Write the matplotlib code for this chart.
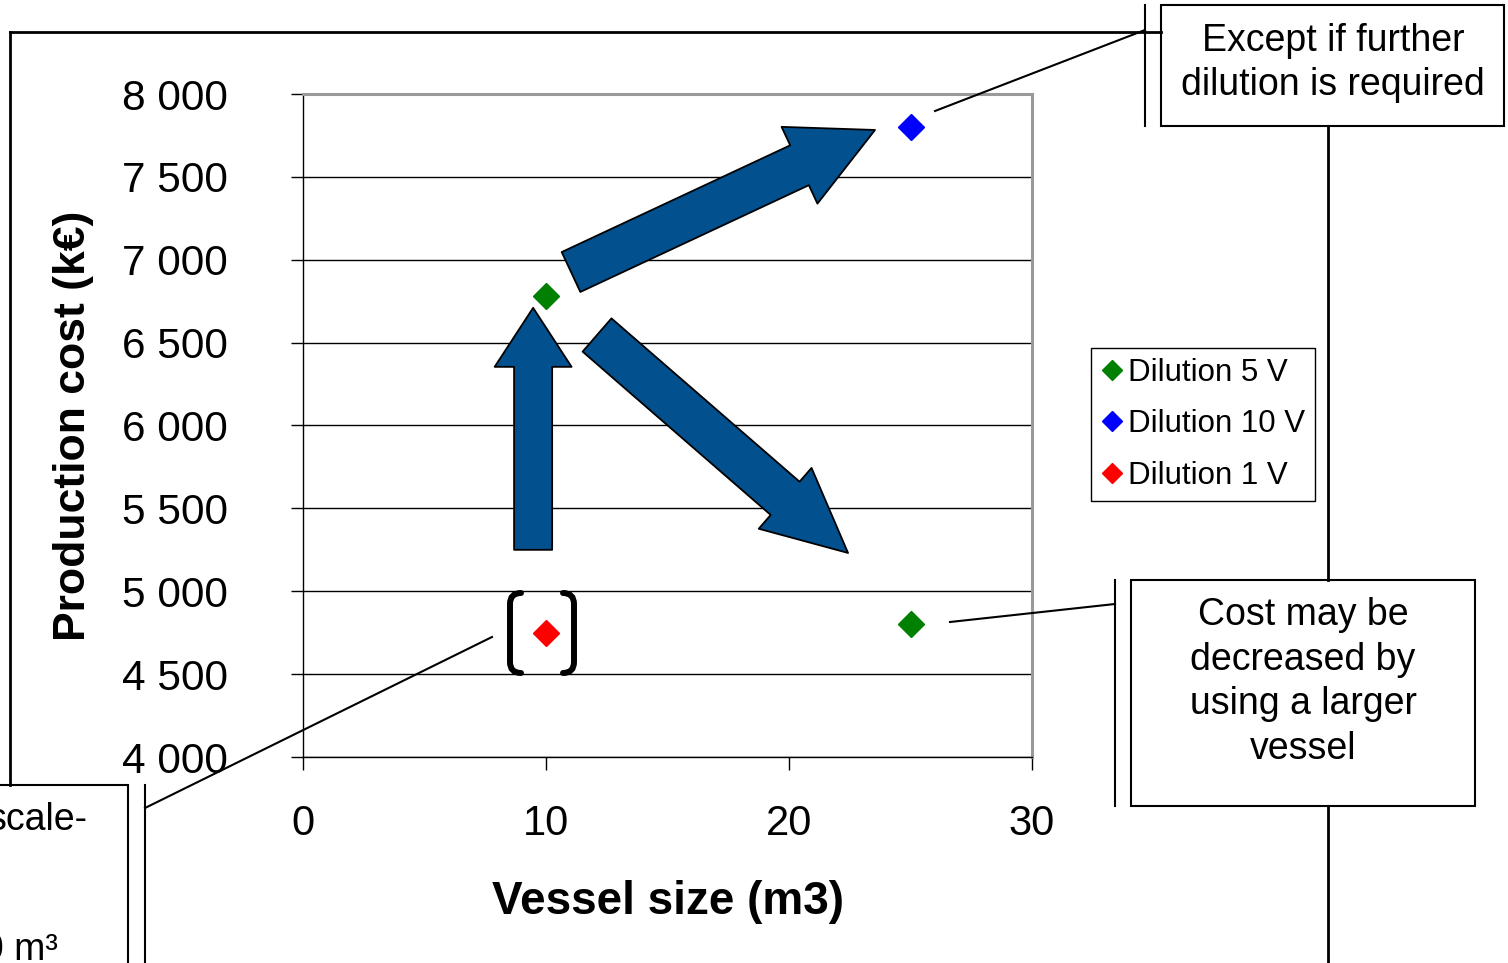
import matplotlib
matplotlib.use("Agg")
import matplotlib.pyplot as plt
from matplotlib.patches import Rectangle, FancyArrowPatch, PathPatch
from matplotlib.path import Path
from matplotlib.ticker import FuncFormatter

plt.rcParams['font.family'] = ['Liberation Sans', 'DejaVu Sans']

# ---- data ----
series_names = ["Dilution 5 V", "Dilution 10 V", "Dilution 1 V"]
series_colors = ["#008000", "#0000FF", "#FF0000"]
series_x = [[10, 25], [25], [10]]
series_y = [[6780, 4800], [7800], [4750]]

x_ticks = [0, 10, 20, 30]
y_ticks = [4000, 4500, 5000, 5500, 6000, 6500, 7000, 7500, 8000]

# annotation arrows (tail -> tip, data units)
arrow_tails = [(9.47, 5250), (11.03, 6926), (12.1, 6546)]
arrow_tips = [(9.47, 6710), (23.54, 7783), (22.43, 5231)]
arrow_sizes = [(42.5, 55.4, 27.4), (60, 61, 31.7), (60, 58, 31.7)]  # head_len, head_w, tail_w (pt)

W, H = 1508, 963
fig = plt.figure(figsize=(W / 100, H / 100), dpi=100)
fig.patch.set_facecolor("white")

def fx(px):
    return px / W

def fy(py):
    return 1 - py / H

ax = fig.add_axes([fx(303), fy(757), fx(1032) - fx(303), fy(94) - fy(757)])
ax.set_xlim(0, 30)
ax.set_ylim(4000, 8000)
ax.set_xticks(x_ticks)
ax.set_yticks(y_ticks)
ax.yaxis.set_major_formatter(FuncFormatter(lambda v, p: f"{int(v):,}".replace(",", " ")))
ax.grid(axis="y", color="black", lw=1.0)
ax.set_axisbelow(True)
for s in ["top", "right"]:
    ax.spines[s].set_color("#9a9a9a")
    ax.spines[s].set_linewidth(2.2)
for s in ["left", "bottom"]:
    ax.spines[s].set_color("black")
    ax.spines[s].set_linewidth(1.0)
ax.tick_params(axis="y", direction="out", length=9, width=1, labelsize=30.5, pad=45)
ax.tick_params(axis="x", direction="out", length=9, width=1, labelsize=30, pad=25)
ax.set_ylabel("Production cost (k€)", fontsize=32, fontweight="bold", labelpad=20)
ax.set_xlabel("Vessel size (m3)", fontsize=33, fontweight="bold", labelpad=26)

handles = []
for name, c, xs, ys in zip(series_names, series_colors, series_x, series_y):
    h, = ax.plot(xs, ys, ls="none", marker="D", ms=13, color=c, label=name, zorder=5)
    handles.append(h)

for (t, tip, (hl, hw, tw)) in zip(arrow_tails, arrow_tips, arrow_sizes):
    arr = FancyArrowPatch(t, tip, arrowstyle=f"simple,head_length={hl},head_width={hw},tail_width={tw}",
                          mutation_scale=1, shrinkA=0, shrinkB=0, fc="#03508F", ec="black", lw=1.3,
                          transform=ax.transData, zorder=4)
    ax.add_patch(arr)

leg = fig.legend(handles=handles, loc="upper left", bbox_to_anchor=(fx(1091), fy(348)),
                 fontsize=22.5, markerscale=0.8, handlelength=0.7, handletextpad=0.15,
                 labelspacing=0.68, borderpad=0.32, borderaxespad=0, fancybox=False,
                 frameon=True, edgecolor="black", framealpha=1)
leg.get_frame().set_linewidth(1.0)

# ---- overlay in pixel coordinates ----
ov = fig.add_axes([0, 0, 1, 1], zorder=10)
ov.set_xlim(0, W)
ov.set_ylim(H, 0)
ov.axis("off")
ov.patch.set_alpha(0)

lw = 1.5
K = "black"
# outer frame
ov.plot([10, 10], [32, 785], color=K, lw=2)
ov.plot([10, 1161], [32, 32], color=K, lw=2)
ov.plot([1328, 1328], [126, 580], color=K, lw=2)
ov.plot([1328, 1328], [806, 963], color=K, lw=2)

# callout top right
ov.add_patch(Rectangle((1161, 5), 343, 121, fc="white", ec=K, lw=lw))
ov.plot([1145, 1145], [5, 126], color=K, lw=lw)
ov.plot([935, 1145], [111, 30], color=K, lw=lw)
ov.text(1333, 63, "Except if further\ndilution is required", ha="center", va="center",
        fontsize=27, linespacing=1.3)

# callout right
ov.add_patch(Rectangle((1131, 580), 344, 226, fc="white", ec=K, lw=lw))
ov.plot([1115, 1115], [580, 806], color=K, lw=lw)
ov.plot([950, 1115], [622, 604], color=K, lw=lw)
ov.text(1303, 682, "Cost may be\ndecreased by\nusing a larger\nvessel", ha="center", va="center",
        fontsize=27, linespacing=1.3)

# callout bottom left (partially outside figure, as in the source)
ov.add_patch(Rectangle((-20, 785), 148, 220, fc="white", ec=K, lw=lw))
ov.plot([145, 145], [785, 963], color=K, lw=lw)
ov.plot([145, 492], [808, 637], color=K, lw=lw)
ov.text(88, 820, "scale-", ha="right", va="center", fontsize=27)
ov.text(58, 950, "10 m³", ha="right", va="center", fontsize=27)

# brackets around red point
lb = Path([(521, 593), (510, 593), (510, 604), (510, 662), (510, 673), (521, 673)],
          [Path.MOVETO, Path.CURVE3, Path.CURVE3, Path.LINETO, Path.CURVE3, Path.CURVE3])
rb = Path([(563, 593), (574, 593), (574, 604), (574, 662), (574, 673), (563, 673)],
          [Path.MOVETO, Path.CURVE3, Path.CURVE3, Path.LINETO, Path.CURVE3, Path.CURVE3])
for p in (lb, rb):
    ov.add_patch(PathPatch(p, fc="none", ec=K, lw=4.3, capstyle="round"))

fig.savefig("out.png", dpi=100, facecolor="white")
